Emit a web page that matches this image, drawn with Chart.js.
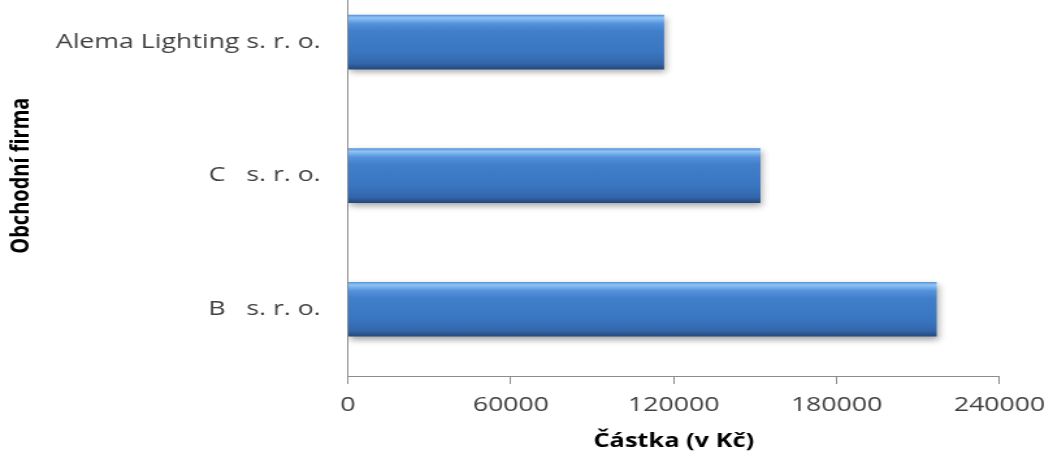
<!DOCTYPE html>
<html>
<head>
<meta charset="utf-8">
<script src="https://cdn.jsdelivr.net/npm/chart.js@4"></script>
<style>
    html, body { margin: 0; padding: 0; background: #fff; overflow: hidden; }
    /* the source picture is stretched sideways, so the chart is drawn narrow and widened */
    #wrap {
        position: absolute; left: 0; top: -50px;
        width: 813px; height: 507px;
        transform: scaleX(1.3); transform-origin: 0 0;
    }
</style>
</head>
<body>
<div id="wrap"><canvas id="chart"></canvas></div>
<script>
// data
const firms   = ['Alema Lighting s. r. o.', 'C   s. r. o.', 'B   s. r. o.'];
const amounts = [116300, 151800, 216700];
const xTicks  = [0, 60000, 120000, 180000, 240000];

const FONT = "'Open Sans', sans-serif";
const STRETCH = 1.3;

// vertical bevel-ish gradient per bar, placed from the category scale
function barFill(ctx) {
    const chart = ctx.chart;
    const yScale = chart.scales.y;
    if (!yScale || ctx.dataIndex === undefined) return '#3f7cc7';
    const yc = yScale.getPixelForValue(ctx.dataIndex);
    if (!isFinite(yc)) return '#3f7cc7';
    const g = chart.ctx.createLinearGradient(0, yc - 27, 0, yc + 27);
    g.addColorStop(0, '#5a96db');
    g.addColorStop(0.05, '#8fc4f5');
    g.addColorStop(0.16, '#5591dc');
    g.addColorStop(0.3, '#417fcb');
    g.addColorStop(0.7, '#3a75c0');
    g.addColorStop(0.9, '#3366aa');
    g.addColorStop(1, '#23497c');
    return g;
}

const shadowPlugin = {
    id: 'barShadow',
    beforeDatasetsDraw(chart) {
        const c = chart.ctx;
        c.save();
        c.shadowColor = 'rgba(0,0,0,0.35)';
        c.shadowBlur = 6;
        c.shadowOffsetX = 1.5;
        c.shadowOffsetY = 3;
    },
    afterDatasetsDraw(chart) {
        chart.ctx.restore();
    }
};

new Chart(document.getElementById('chart'), {
    type: 'bar',
    data: {
        labels: firms,
        datasets: [{
            data: amounts,
            backgroundColor: barFill,
            borderWidth: 0,
            barThickness: 54
        }]
    },
    plugins: [shadowPlugin],
    options: {
        indexAxis: 'y',
        responsive: true,
        maintainAspectRatio: false,
        animation: false,
        layout: {
            autoPadding: false,
            padding: { left: 0, right: 32.4, top: 0, bottom: 0 }
        },
        plugins: {
            legend: { display: false },
            tooltip: { enabled: false }
        },
        scales: {
            x: {
                min: 0,
                max: 240000,
                afterBuildTicks: axis => { axis.ticks = xTicks.map(v => ({ value: v })); },
                grid: {
                    drawOnChartArea: false,
                    drawTicks: true,
                    tickLength: 8,
                    color: '#8c8c8c'
                },
                border: { color: '#8c8c8c', width: 1 },
                ticks: {
                    color: '#404040',
                    font: { family: FONT, size: 20.5 },
                    padding: 9,
                    maxRotation: 0,
                    callback: v => String(v)
                },
                title: {
                    display: true,
                    text: 'Částka (v Kč)',
                    color: '#000',
                    font: { family: FONT, size: 19.5, weight: 'bold' },
                    padding: { top: 2, bottom: 3.5 }
                },
                afterFit: axis => { axis.height = 81; }
            },
            y: {
                grid: { display: false },
                border: { color: '#8c8c8c', width: 1 },
                ticks: {
                    color: '#404040',
                    font: { family: FONT, size: 20.5 },
                    padding: 13
                },
                title: {
                    display: true,
                    text: 'Obchodní firma',
                    color: '#000',
                    font: { family: FONT, size: 20, weight: 'bold' },
                    padding: { top: 4, bottom: 0 }
                },
                afterFit: axis => { axis.width = 348 / STRETCH; }
            }
        }
    }
});
</script>
</body>
</html>
